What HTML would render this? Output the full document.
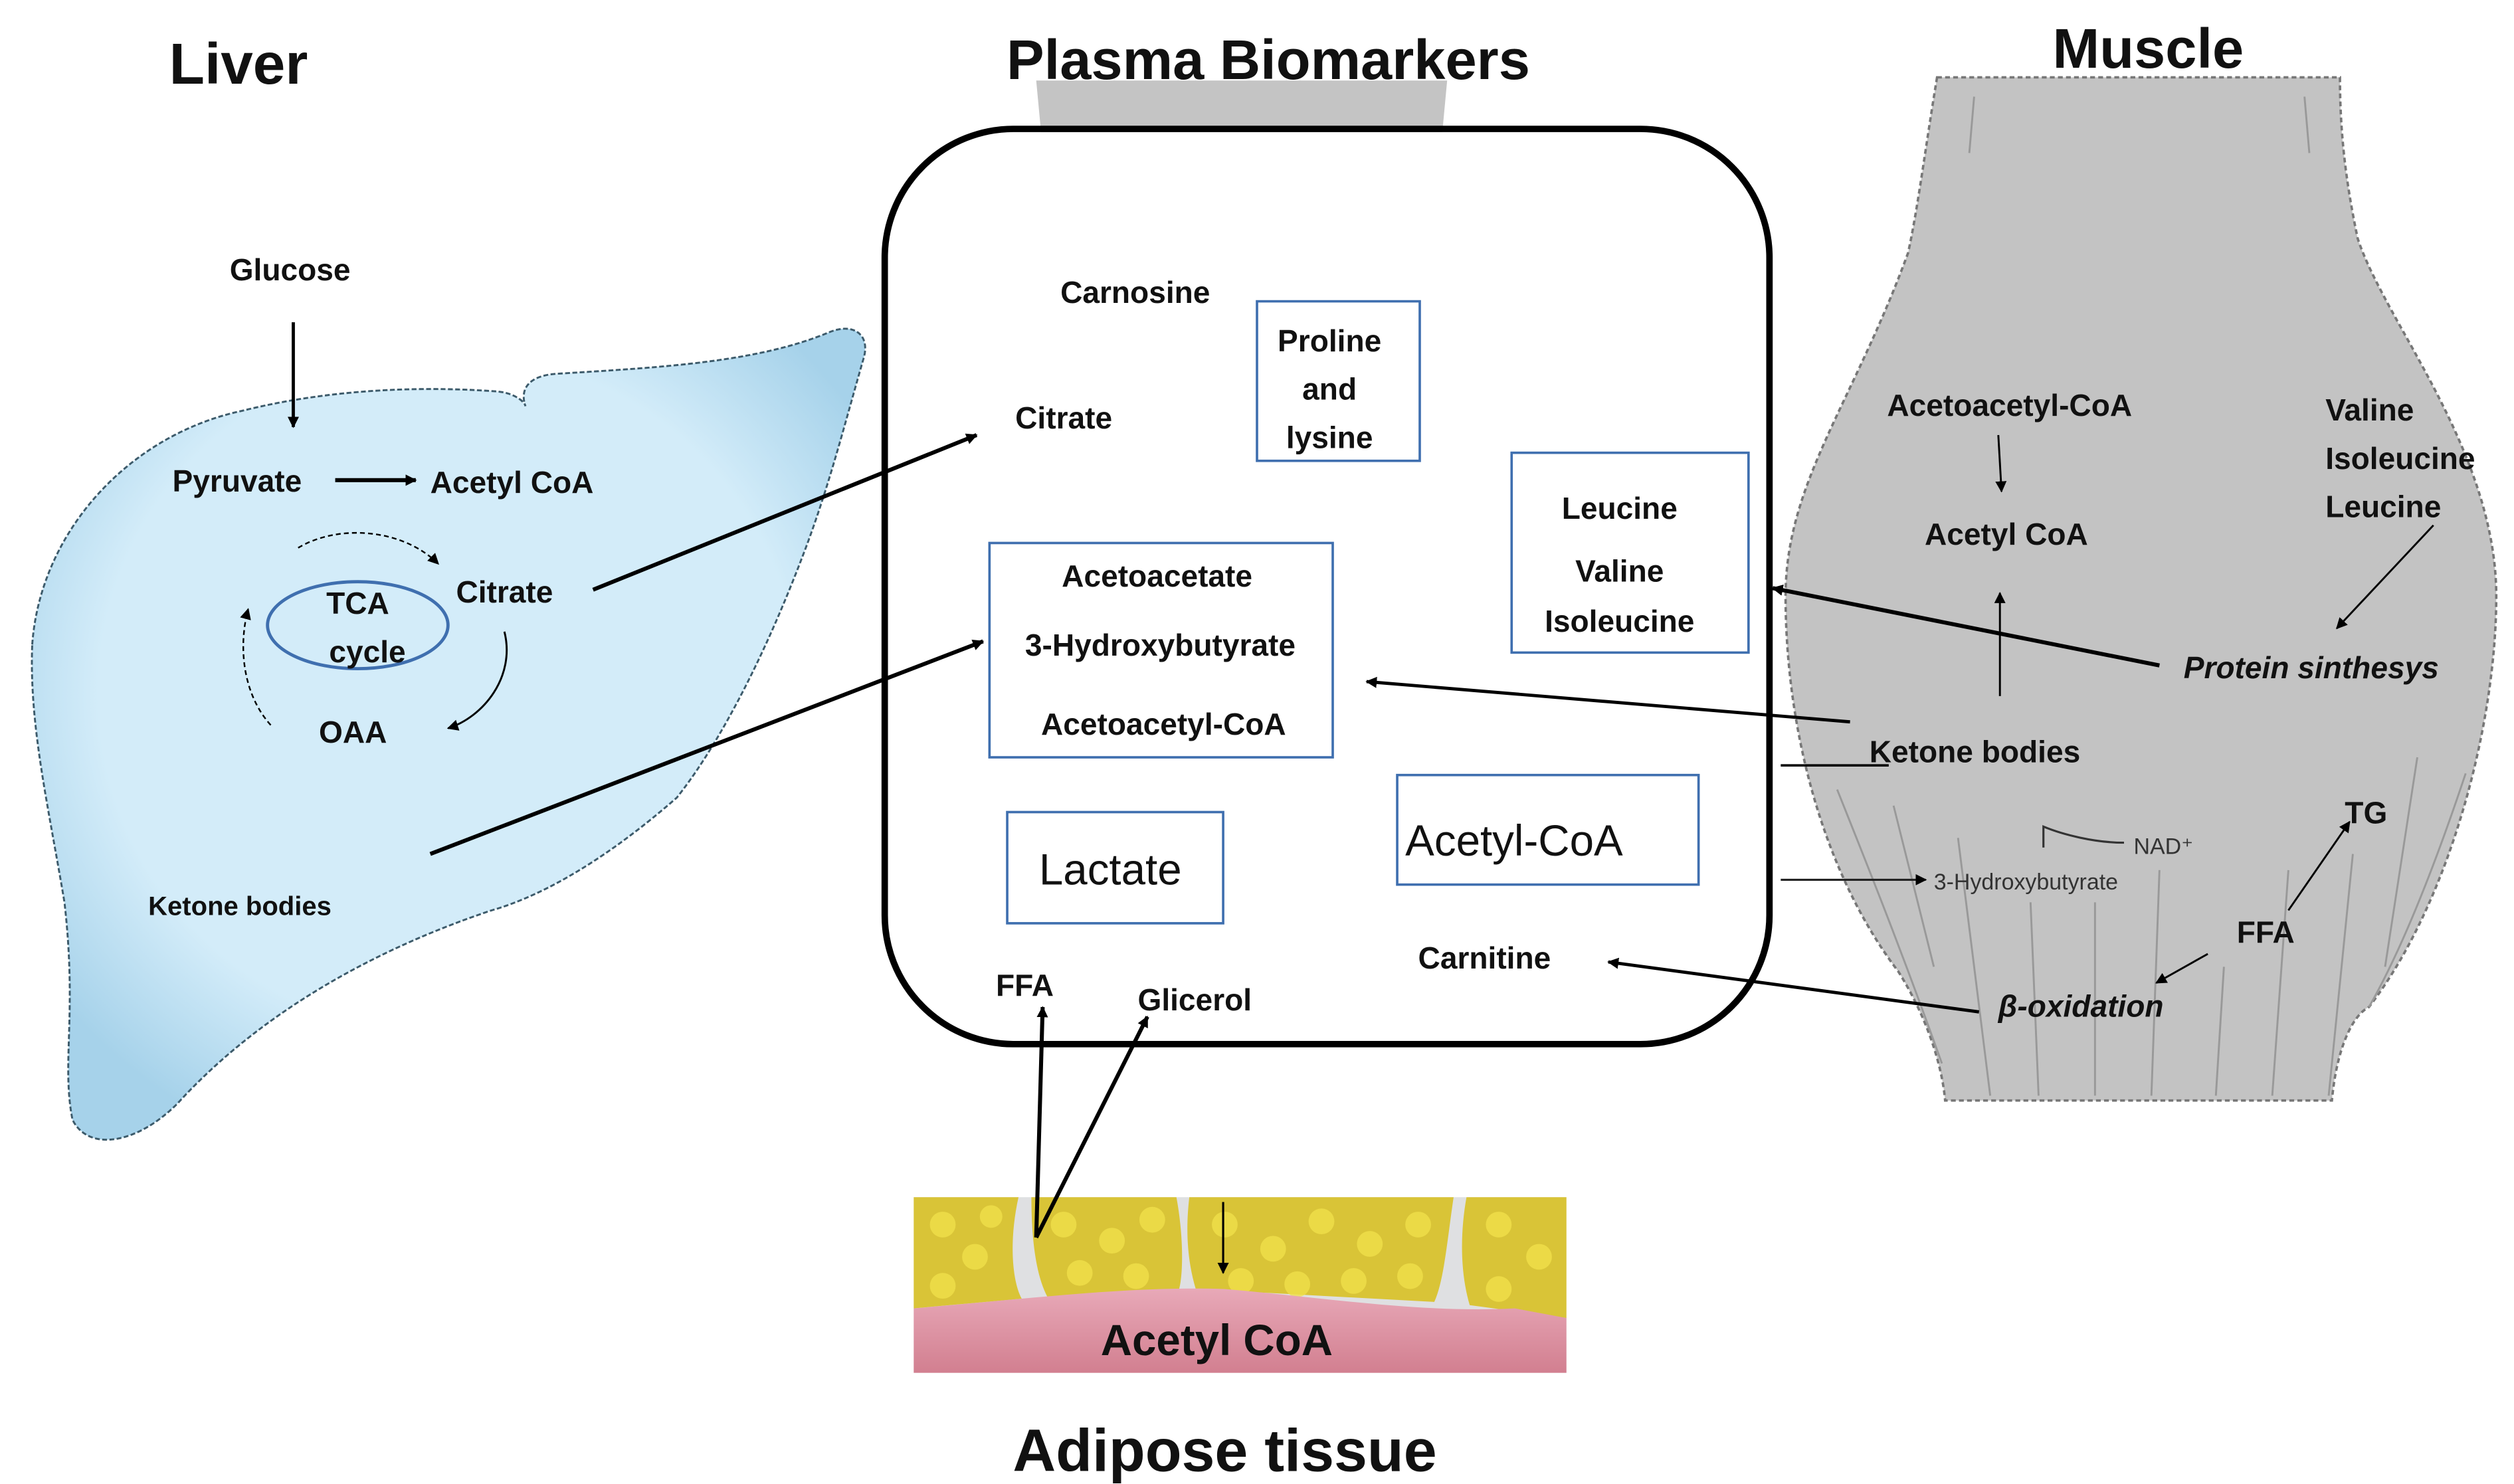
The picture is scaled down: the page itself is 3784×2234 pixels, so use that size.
<!DOCTYPE html>
<html><head><meta charset="utf-8"><style>
html,body{margin:0;padding:0;background:#fff;}
svg{display:block}
text{font-family:"Liberation Sans",sans-serif;font-weight:bold;fill:#111}
</style></head><body>
<svg width="3784" height="2234" viewBox="0 0 1560 921" preserveAspectRatio="none" xmlns="http://www.w3.org/2000/svg">
<defs>
<marker id="a" viewBox="0 0 10 10" refX="9" refY="5" markerWidth="7" markerHeight="7" orient="auto-start-reverse" markerUnits="userSpaceOnUse"><path d="M0,0L10,5L0,10z" fill="#000"/></marker>
<radialGradient id="lg" cx="0.5" cy="0.45" r="0.6"><stop offset="0.7" stop-color="#d3ecf9"/><stop offset="1" stop-color="#a6d2ea"/></radialGradient>
<linearGradient id="pk" x1="0" y1="0" x2="0" y2="1"><stop offset="0" stop-color="#e8a9b8"/><stop offset="1" stop-color="#d27f90"/></linearGradient>
</defs>

<text x="148" y="52" font-size="36" text-anchor="middle">Liver</text>
<path d="M643,50 L898,50 L895,82 L646,82 Z" fill="#c4c4c4"/>
<text x="787" y="49" font-size="35" text-anchor="middle">Plasma Biomarkers</text>

<path d="M1202,48 C1195,90 1190,130 1184,157 C1150,250 1108,300 1108,370 C1108,450 1130,540 1178,603 C1195,630 1205,660 1207,683 L1447,683 C1450,650 1460,630 1470,625 C1520,560 1549,450 1549,370 C1549,280 1480,200 1463,148 C1455,110 1452,80 1452,48 Z" fill="#c3c3c3" stroke="#777" stroke-width="1.5" stroke-dasharray="3 2"/>
<g stroke="#999" stroke-width="1.2" fill="none">
<path d="M1225,60 L1222,95"/><path d="M1430,60 L1433,95"/>
<path d="M1140,490 C1160,540 1180,590 1205,660"/><path d="M1175,500 L1200,600"/><path d="M1215,520 L1235,680"/>
<path d="M1260,560 L1265,680"/><path d="M1300,560 L1300,680"/><path d="M1340,540 L1335,680"/>
<path d="M1380,600 L1375,680"/><path d="M1420,540 L1410,680"/><path d="M1460,530 L1445,680"/>
<path d="M1500,470 L1480,600"/><path d="M1530,480 C1510,540 1490,590 1470,625"/>
</g>
<text x="1333" y="42" font-size="35" text-anchor="middle">Muscle</text>

<rect x="549" y="80" width="549" height="568" rx="80" ry="80" fill="none" stroke="#000" stroke-width="4"/>

<path d="M20,400 C25,330 80,270 150,255 C210,240 270,240 309,243 C320,244 326,250 326,252 C322,240 330,233 345,232 C410,228 470,225 515,206 C530,200 540,208 536,222 C525,260 515,300 500,340 C470,420 440,470 420,495 C380,530 340,555 305,565 C230,590 160,630 110,685 C85,710 55,715 45,695 C38,660 48,630 40,560 C30,500 18,450 20,400 Z" fill="url(#lg)" stroke="#3c5a6a" stroke-width="1.2" stroke-dasharray="3 1.5"/>

<text x="180" y="174" font-size="19" text-anchor="middle">Glucose</text>
<line x1="182" y1="200" x2="182" y2="265" stroke="#000" stroke-width="2" marker-end="url(#a)"/>
<text x="107" y="305" font-size="19">Pyruvate</text>
<line x1="208" y1="298" x2="258" y2="298" stroke="#000" stroke-width="2.5" marker-end="url(#a)"/>
<text x="267" y="306" font-size="19">Acetyl CoA</text>
<text x="283" y="374" font-size="19">Citrate</text>
<ellipse cx="222" cy="388" rx="56" ry="27" fill="none" stroke="#3f6faf" stroke-width="2"/>
<text x="222" y="381" font-size="19" text-anchor="middle">TCA</text>
<text x="228" y="411" font-size="19" text-anchor="middle">cycle</text>
<text x="219" y="461" font-size="19" text-anchor="middle">OAA</text>
<path d="M185,340 C210,325 250,328 272,350" fill="none" stroke="#000" stroke-width="1" stroke-dasharray="3 2" marker-end="url(#a)"/>
<path d="M313,392 C320,420 300,445 278,452" fill="none" stroke="#000" stroke-width="1.2" marker-end="url(#a)"/>
<path d="M168,450 C150,430 148,400 154,378" fill="none" stroke="#000" stroke-width="1" stroke-dasharray="3 2" marker-end="url(#a)"/>
<text x="92" y="568" font-size="16.5">Ketone bodies</text>

<line x1="368" y1="366" x2="606" y2="270" stroke="#000" stroke-width="2.5" marker-end="url(#a)"/>
<line x1="267" y1="530" x2="610" y2="398" stroke="#000" stroke-width="2.5" marker-end="url(#a)"/>

<text x="658" y="188" font-size="19">Carnosine</text>
<rect x="780" y="187" width="101" height="99" fill="none" stroke="#3f6faf" stroke-width="1.5"/>
<text x="825" y="218" font-size="19" text-anchor="middle">Proline</text>
<text x="825" y="248" font-size="19" text-anchor="middle">and</text>
<text x="825" y="278" font-size="19" text-anchor="middle">lysine</text>
<text x="630" y="266" font-size="19">Citrate</text>
<rect x="938" y="281" width="147" height="124" fill="none" stroke="#3f6faf" stroke-width="1.5"/>
<text x="1005" y="322" font-size="19" text-anchor="middle">Leucine</text>
<text x="1005" y="361" font-size="19" text-anchor="middle">Valine</text>
<text x="1005" y="392" font-size="19" text-anchor="middle">Isoleucine</text>
<rect x="614" y="337" width="213" height="133" fill="none" stroke="#3f6faf" stroke-width="1.5"/>
<text x="718" y="364" font-size="19" text-anchor="middle">Acetoacetate</text>
<text x="720" y="407" font-size="19" text-anchor="middle">3-Hydroxybutyrate</text>
<text x="722" y="456" font-size="19" text-anchor="middle">Acetoacetyl-CoA</text>
<rect x="625" y="504" width="134" height="69" fill="none" stroke="#3f6faf" stroke-width="1.5"/>
<text x="689" y="549" font-size="27" text-anchor="middle" style="font-weight:normal">Lactate</text>
<rect x="867" y="481" width="187" height="68" fill="none" stroke="#3f6faf" stroke-width="1.5"/>
<text x="872" y="531" font-size="27" style="font-weight:normal">Acetyl-CoA</text>
<text x="880" y="601" font-size="19">Carnitine</text>
<text x="618" y="618" font-size="19">FFA</text>
<text x="706" y="627" font-size="19">Glicerol</text>

<text x="1247" y="258" font-size="19" text-anchor="middle">Acetoacetyl-CoA</text>
<line x1="1240" y1="270" x2="1242" y2="305" stroke="#000" stroke-width="1.2" marker-end="url(#a)"/>
<text x="1245" y="338" font-size="19" text-anchor="middle">Acetyl CoA</text>
<line x1="1241" y1="432" x2="1241" y2="368" stroke="#000" stroke-width="1.2" marker-end="url(#a)"/>
<text x="1443" y="261" font-size="19">Valine</text>
<text x="1443" y="291" font-size="19">Isoleucine</text>
<text x="1443" y="321" font-size="19">Leucine</text>
<line x1="1510" y1="326" x2="1450" y2="390" stroke="#000" stroke-width="1.2" marker-end="url(#a)"/>
<text x="1355" y="421" font-size="19" font-style="italic">Protein sinthesys</text>
<line x1="1340" y1="413" x2="1100" y2="365" stroke="#000" stroke-width="2.5" marker-end="url(#a)"/>
<text x="1160" y="473" font-size="19">Ketone bodies</text>
<line x1="1148" y1="448" x2="848" y2="423" stroke="#000" stroke-width="2" marker-end="url(#a)"/>
<line x1="1105" y1="475" x2="1172" y2="475" stroke="#000" stroke-width="1.5"/>
<path d="M1268,526 L1268,513 C1280,518 1300,523 1318,523" fill="none" stroke="#333" stroke-width="1.3"/>
<text x="1324" y="530" font-size="14" style="font-weight:normal;fill:#333">NAD⁺</text>
<line x1="1105" y1="546" x2="1195" y2="546" stroke="#222" stroke-width="1.3" marker-end="url(#a)"/>
<text x="1200" y="552" font-size="14" style="font-weight:normal;fill:#333">3-Hydroxybutyrate</text>
<text x="1455" y="511" font-size="19">TG</text>
<text x="1388" y="585" font-size="19">FFA</text>
<line x1="1420" y1="565" x2="1458" y2="510" stroke="#000" stroke-width="1.2" marker-end="url(#a)"/>
<line x1="1370" y1="592" x2="1338" y2="610" stroke="#000" stroke-width="1.2" marker-end="url(#a)"/>
<text x="1240" y="631" font-size="19" font-style="italic">β-oxidation</text>
<line x1="1228" y1="628" x2="998" y2="597" stroke="#000" stroke-width="2" marker-end="url(#a)"/>

<rect x="567" y="743" width="405" height="109" fill="#dfe0e2"/>
<g fill="#d9c437">
<path d="M567,743 L632,743 C626,770 628,795 634,806 L567,812 Z"/>
<path d="M640,743 L730,743 C735,770 734,795 731,802 L650,805 C642,790 640,765 640,743 Z"/>
<path d="M738,743 L902,743 C898,770 896,795 890,808 L742,800 C736,780 736,760 738,743 Z"/>
<path d="M910,743 L972,743 L972,818 L912,810 C906,790 906,765 910,743 Z"/>
</g>
<g fill="#f0e04a" opacity="0.8">
<circle cx="585" cy="760" r="8"/><circle cx="605" cy="780" r="8"/><circle cx="585" cy="798" r="8"/><circle cx="615" cy="755" r="7"/>
<circle cx="660" cy="760" r="8"/><circle cx="690" cy="770" r="8"/><circle cx="715" cy="757" r="8"/><circle cx="670" cy="790" r="8"/><circle cx="705" cy="792" r="8"/>
<circle cx="760" cy="760" r="8"/><circle cx="790" cy="775" r="8"/><circle cx="820" cy="758" r="8"/><circle cx="850" cy="772" r="8"/><circle cx="880" cy="760" r="8"/>
<circle cx="770" cy="795" r="8"/><circle cx="805" cy="797" r="8"/><circle cx="840" cy="795" r="8"/><circle cx="875" cy="792" r="8"/>
<circle cx="930" cy="760" r="8"/><circle cx="955" cy="780" r="8"/><circle cx="930" cy="800" r="8"/>
</g>
<path d="M567,812 C640,806 700,798 760,800 C820,805 880,815 940,812 L972,818 L972,852 L567,852 Z" fill="url(#pk)"/>
<line x1="759" y1="746" x2="759" y2="790" stroke="#000" stroke-width="1.3" marker-end="url(#a)"/>
<text x="755" y="841" font-size="27" text-anchor="middle">Acetyl CoA</text>
<line x1="643" y1="768" x2="647" y2="625" stroke="#000" stroke-width="2.5" marker-end="url(#a)"/>
<line x1="643" y1="768" x2="712" y2="631" stroke="#000" stroke-width="2.5" marker-end="url(#a)"/>
<text x="760" y="913" font-size="37" text-anchor="middle">Adipose tissue</text>
</svg>
</body></html>
